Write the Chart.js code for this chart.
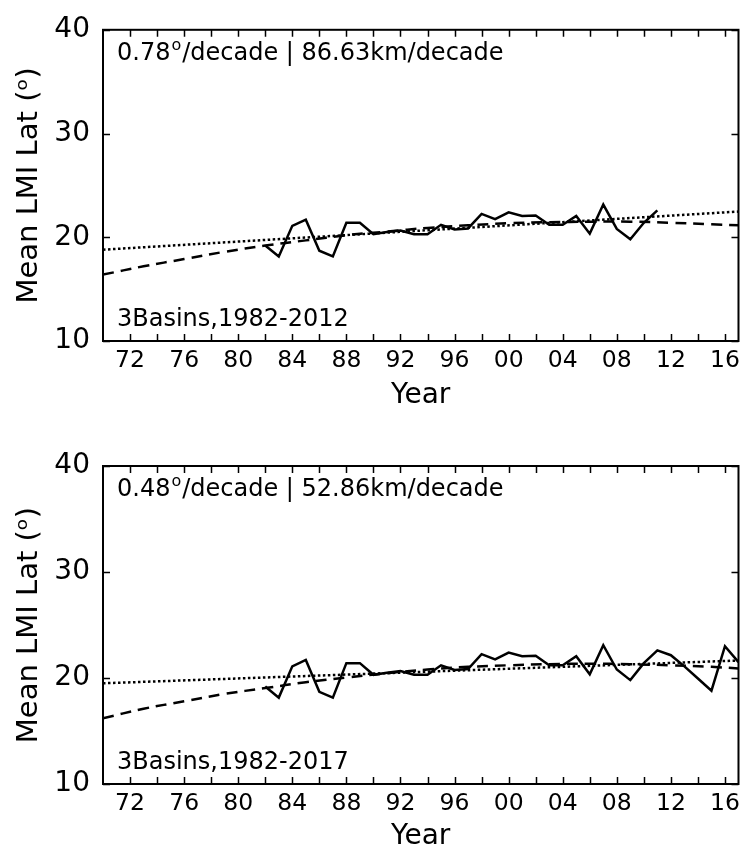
<!DOCTYPE html>
<html>
<head>
<meta charset="utf-8">
<script src="https://cdn.jsdelivr.net/npm/chart.js@4/dist/chart.umd.min.js"></script>
<style>
  html, body { margin: 0; padding: 0; background: #fff; }
  #wrap { position: relative; width: 746px; height: 854px; }
  .panel { position: absolute; left: 0; width: 746px; height: 427px; }
  canvas { display: block; }
</style>
</head>
<body>
<div id="wrap">
  <div class="panel" style="top:0"><canvas id="c1" width="746" height="427"></canvas></div>
  <div class="panel" style="top:427px"><canvas id="c2" width="746" height="427"></canvas></div>
</div>
<script>
// ---------- Data ----------
const obsYears1 = [1982,1983,1984,1985,1986,1987,1988,1989,1990,1991,1992,1993,1994,1995,1996,1997,1998,1999,2000,2001,2002,2003,2004,2005,2006,2007,2008,2009,2010,2011];
const obsLat1   = [19.2,18.15,21.1,21.7,18.7,18.15,21.4,21.4,20.3,20.5,20.65,20.3,20.3,21.2,20.75,20.85,22.25,21.75,22.4,22.05,22.1,21.2,21.2,22.05,20.35,23.15,20.8,19.8,21.4,22.6];

const obsYears2 = [1982,1983,1984,1985,1986,1987,1988,1989,1990,1991,1992,1993,1994,1995,1996,1997,1998,1999,2000,2001,2002,2003,2004,2005,2006,2007,2008,2009,2010,2011,2012,2013,2014,2015,2016,2017];
const obsLat2   = [19.2,18.15,21.1,21.7,18.7,18.15,21.4,21.4,20.3,20.5,20.65,20.3,20.3,21.2,20.75,20.85,22.25,21.75,22.4,22.05,22.1,21.2,21.2,22.05,20.35,23.1,20.8,19.8,21.4,22.6,22.15,21.1,19.95,18.8,23.0,21.5];

const fitYears   = [1970,1973,1976,1979,1982,1985,1988,1991,1994,1997,2000,2003,2006,2009,2012,2015,2017];
const fitLat1    = [16.4,17.2,17.9,18.6,19.2,19.7,20.2,20.55,20.9,21.15,21.35,21.45,21.5,21.5,21.4,21.25,21.15];
const fitLat2    = [16.2,17.1,17.8,18.5,19.05,19.6,20.05,20.45,20.8,21.05,21.2,21.3,21.35,21.3,21.2,21.05,20.9];

const trendYears = [1970,2017];
const trendLat1  = [18.8,22.48];
const trendLat2  = [19.5,21.65];

const yTicks = [10,20,30,40];
const rateText1 = ['0.78','/decade | 86.63km/decade'];
const rateText2 = ['0.48','/decade | 52.86km/decade'];
const basinText1 = '3Basins,1982-2012';
const basinText2 = '3Basins,1982-2017';

// ---------- helpers ----------
const FONT = '"DejaVu Sans", sans-serif';
function pts(xs, ys) { return xs.map((x, i) => ({x: x, y: ys[i]})); }

const framePlugin = {
  id: 'frame',
  afterDraw(chart, args, opts) {
    const {ctx, chartArea: a, scales} = chart;
    const xs = scales.x, ys = scales.y;
    ctx.save();
    ctx.strokeStyle = '#000';
    ctx.lineWidth = 2;
    ctx.strokeRect(a.left, a.top, a.right - a.left, a.bottom - a.top);
    ctx.lineWidth = 1.5;
    const tl = 7;
    ctx.beginPath();
    xs.ticks.forEach(t => {
      const v = t.value;
      if (v % 2 !== 0 || v <= xs.min || v >= xs.max) return;
      const px = Math.round(xs.getPixelForValue(v)) + 0.5;
      ctx.moveTo(px, a.bottom); ctx.lineTo(px, a.bottom - tl);
      ctx.moveTo(px, a.top); ctx.lineTo(px, a.top + tl);
    });
    yTicks.forEach(v => {
      const py = Math.round(ys.getPixelForValue(v)) + 0.5;
      ctx.moveTo(a.left, py); ctx.lineTo(a.left + tl, py);
      ctx.moveTo(a.right, py); ctx.lineTo(a.right - tl, py);
    });
    ctx.stroke();

    // annotations
    ctx.fillStyle = '#000';
    ctx.textBaseline = 'middle';
    ctx.textAlign = 'left';
    const x0 = a.left + 14;
    const yTop = a.top + 24;
    ctx.font = '24px ' + FONT;
    ctx.fillText(opts.rate[0], x0, yTop);
    let w = ctx.measureText(opts.rate[0]).width;
    ctx.font = '16px ' + FONT;
    ctx.fillText('o', x0 + w + 1, yTop - 8);
    w += ctx.measureText('o').width + 2;
    ctx.font = '24px ' + FONT;
    ctx.fillText(opts.rate[1], x0 + w, yTop);
    ctx.fillText(opts.basin, x0, a.bottom - 21);
    ctx.restore();
  }
};

function makeChart(id, obsX, obsY, fitY, trendY, rate, basin, padTop, xAxisH, yearPad) {
  return new Chart(document.getElementById(id), {
    type: 'line',
    data: {
      datasets: [
        { data: pts(fitYears, fitY), borderColor: '#000', borderWidth: 2.5, borderDash: [11, 7], pointRadius: 0, tension: 0.4, fill: false },
        { data: pts(trendYears, trendY), borderColor: '#000', borderWidth: 2.5, borderDash: [2.5, 2.5], pointRadius: 0, fill: false },
        { data: pts(obsX, obsY), borderColor: '#000', borderWidth: 2.5, pointRadius: 0, tension: 0, fill: false }
      ]
    },
    options: {
      responsive: false,
      animation: false,
      devicePixelRatio: 1,
      layout: { padding: { top: padTop, right: 4, left: 0, bottom: 0 } },
      plugins: {
        legend: { display: false },
        tooltip: { enabled: false },
        frame: { rate: rate, basin: basin }
      },
      scales: {
        x: {
          type: 'linear',
          min: 1970, max: 2017,
          grid: { display: false, drawTicks: false },
          border: { display: false },
          ticks: {
            stepSize: 2, autoSkip: false, includeBounds: false, maxRotation: 0,
            color: '#000', padding: 6,
            font: { family: FONT, size: 23.5 },
            callback: v => (v % 4 === 0 ? String(v % 100).padStart(2, '0') : '')
          },
          title: { display: true, text: 'Year', color: '#000', font: { family: FONT, size: 28 }, padding: { top: 0, bottom: yearPad } },
          afterFit: s => { s.height = xAxisH; }
        },
        y: {
          min: 10, max: 40,
          grid: { display: false, drawTicks: false },
          border: { display: false },
          ticks: { stepSize: 10, color: '#000', padding: 13, font: { family: FONT, size: 28 } },
          title: { display: true, text: 'Mean LMI Lat (\u1D52)', color: '#000', font: { family: FONT, size: 29 }, padding: { top: 12.5, bottom: 0 } },
          afterFit: s => { s.width = 103; }
        }
      }
    },
    plugins: [framePlugin]
  });
}

makeChart('c1', obsYears1, obsLat1, fitLat1, trendLat1, rateText1, basinText1, 22, 86, 14);
makeChart('c2', obsYears2, obsLat2, fitLat2, trendLat2, rateText2, basinText2, 39, 70, 0);
</script>
</body>
</html>
